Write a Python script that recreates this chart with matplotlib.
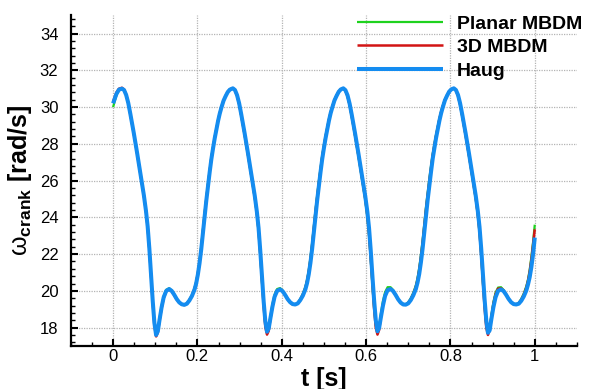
import matplotlib
matplotlib.use('Agg')
import matplotlib.pyplot as plt
from matplotlib.ticker import MultipleLocator

plt.rcParams['font.family'] = ['Liberation Sans', 'DejaVu Sans']
plt.rcParams['mathtext.fontset'] = 'custom'
plt.rcParams['mathtext.rm'] = 'Liberation Sans'
plt.rcParams['mathtext.bf'] = 'Liberation Sans:bold'
plt.rcParams['mathtext.it'] = 'Liberation Sans:italic'

# time [s], shared by all three series
t = [0.000, 0.008, 0.014,
     # cycle 1
     0.021, 0.026, 0.031, 0.036, 0.041, 0.049, 0.057, 0.065, 0.073, 0.078,
     0.082, 0.086, 0.090, 0.094, 0.098, 0.102, 0.106, 0.110, 0.115, 0.120,
     0.126, 0.133, 0.139, 0.145, 0.151, 0.157, 0.163, 0.169, 0.175, 0.181,
     0.187, 0.193, 0.197, 0.201, 0.205, 0.209, 0.213, 0.217, 0.221, 0.225,
     0.229, 0.233, 0.237, 0.241, 0.245, 0.249, 0.253, 0.257, 0.262, 0.267,
     0.272, 0.277,
     # cycle 2
     0.284, 0.289, 0.294, 0.299, 0.304, 0.312, 0.320, 0.328, 0.336, 0.341,
     0.345, 0.349, 0.353, 0.357, 0.361, 0.365, 0.369, 0.373, 0.378, 0.383,
     0.389, 0.396, 0.402, 0.408, 0.414, 0.420, 0.426, 0.432, 0.438, 0.444,
     0.450, 0.456, 0.460, 0.464, 0.468, 0.472, 0.476, 0.480, 0.484, 0.488,
     0.492, 0.496, 0.500, 0.504, 0.508, 0.512, 0.516, 0.520, 0.525, 0.530,
     0.535, 0.540,
     # cycle 3
     0.546, 0.551, 0.556, 0.561, 0.566, 0.574, 0.582, 0.590, 0.598, 0.603,
     0.607, 0.611, 0.615, 0.619, 0.623, 0.627, 0.631, 0.635, 0.640, 0.645,
     0.651, 0.658, 0.664, 0.670, 0.676, 0.682, 0.688, 0.694, 0.700, 0.706,
     0.712, 0.718, 0.722, 0.726, 0.730, 0.734, 0.738, 0.742, 0.746, 0.750,
     0.754, 0.758, 0.762, 0.766, 0.770, 0.774, 0.778, 0.782, 0.787, 0.792,
     0.797, 0.802,
     # cycle 4
     0.808, 0.813, 0.818, 0.823, 0.828, 0.836, 0.844, 0.852, 0.860, 0.865,
     0.869, 0.873, 0.877, 0.881, 0.885, 0.889, 0.893, 0.897, 0.902, 0.907,
     0.913, 0.920, 0.926, 0.932, 0.938, 0.944, 0.950, 0.956, 0.962, 0.968,
     0.974, 0.980, 0.984, 0.988, 0.992, 0.996, 1.000]

# crank angular velocity [rad/s]
planar = [30.0, 30.65, 30.93,
          31.0, 30.92, 30.64, 30.18, 29.57, 28.55, 27.45, 26.3, 25.15, 24.3,
          23.4, 22.15, 20.75, 19.35, 18.2, 17.62, 17.85, 18.5, 19.2, 19.72,
          20.06, 20.14, 20.02, 19.8, 19.56, 19.38, 19.27, 19.25, 19.32, 19.52,
          19.78, 20.14, 20.5, 21.0, 21.65, 22.42, 23.33, 24.25, 25.06, 25.85,
          26.58, 27.28, 27.85, 28.38, 28.85, 29.3, 29.7, 30.02, 30.38, 30.62,
          30.84, 30.96,
          31.02, 30.9, 30.6, 30.12, 29.5, 28.45, 27.35, 26.2, 25.05, 24.15,
          23.2, 21.9, 20.5, 19.2, 18.15, 17.72, 17.95, 18.6, 19.3, 19.8,
          20.1, 20.15, 20.02, 19.8, 19.55, 19.37, 19.27, 19.26, 19.35, 19.56,
          19.84, 20.22, 20.6, 21.12, 21.8, 22.6, 23.5, 24.4, 25.2, 25.98,
          26.7, 27.38, 27.94, 28.45, 28.92, 29.36, 29.74, 30.05, 30.4, 30.64,
          30.85, 30.97,
          31.02, 30.88, 30.57, 30.08, 29.45, 28.4, 27.28, 26.12, 24.95, 24.0,
          23.0, 21.7, 20.3, 19.05, 18.1, 17.78, 18.05, 18.75, 19.45, 19.92,
          20.2, 20.2, 20.05, 19.8, 19.55, 19.37, 19.27, 19.27, 19.38, 19.6,
          19.9, 20.3, 20.7, 21.25, 21.95, 22.75, 23.65, 24.55, 25.35, 26.1,
          26.8, 27.45, 28.0, 28.5, 28.96, 29.4, 29.77, 30.08, 30.42, 30.66,
          30.86, 30.97,
          31.02, 30.9, 30.6, 30.1, 29.48, 28.43, 27.32, 26.15, 25.0, 24.1,
          23.15, 21.9, 20.45, 19.15, 18.1, 17.7, 17.95, 18.65, 19.4, 19.9,
          20.18, 20.2, 20.05, 19.82, 19.58, 19.4, 19.29, 19.27, 19.35, 19.56,
          19.86, 20.25, 20.62, 21.15, 21.85, 22.65, 23.6]

mbdm3d = [30.3, 30.8, 31.0,
          31.05, 30.96, 30.68, 30.22, 29.6, 28.58, 27.48, 26.33, 25.18, 24.33,
          23.47, 22.25, 20.82, 19.35, 18.1, 17.52, 17.72, 18.35, 19.05, 19.6,
          19.97, 20.08, 19.98, 19.77, 19.54, 19.36, 19.26, 19.23, 19.3, 19.49,
          19.74, 20.1, 20.45, 20.94, 21.56, 22.32, 23.22, 24.14, 24.96, 25.75,
          26.5, 27.2, 27.78, 28.33, 28.8, 29.27, 29.67, 30.0, 30.36, 30.61,
          30.83, 30.96,
          31.03, 30.92, 30.63, 30.16, 29.54, 28.5, 27.4, 26.25, 25.1, 24.22,
          23.3, 22.0, 20.6, 19.2, 18.05, 17.62, 17.82, 18.45, 19.15, 19.68,
          20.03, 20.1, 19.99, 19.78, 19.54, 19.36, 19.26, 19.24, 19.32, 19.52,
          19.8, 20.16, 20.54, 21.05, 21.7, 22.48, 23.38, 24.3, 25.1, 25.88,
          26.6, 27.3, 27.87, 28.4, 28.87, 29.32, 29.71, 30.03, 30.38, 30.63,
          30.84, 30.96,
          31.03, 30.9, 30.6, 30.12, 29.5, 28.45, 27.35, 26.18, 25.02, 24.1,
          23.1, 21.8, 20.4, 19.05, 18.0, 17.62, 17.88, 18.55, 19.25, 19.76,
          20.08, 20.12, 20.0, 19.78, 19.54, 19.36, 19.26, 19.25, 19.34, 19.55,
          19.84, 20.22, 20.6, 21.14, 21.82, 22.6, 23.5, 24.42, 25.22, 25.98,
          26.7, 27.38, 27.94, 28.45, 28.92, 29.36, 29.74, 30.05, 30.4, 30.64,
          30.85, 30.97,
          31.03, 30.92, 30.62, 30.14, 29.52, 28.47, 27.37, 26.2, 25.05, 24.15,
          23.2, 21.95, 20.5, 19.1, 18.0, 17.6, 17.85, 18.55, 19.3, 19.82,
          20.12, 20.14, 20.02, 19.8, 19.56, 19.38, 19.27, 19.26, 19.33, 19.52,
          19.8, 20.18, 20.55, 21.05, 21.7, 22.5, 23.35]

haug = [30.2, 30.72, 30.95,
        31.0, 30.93, 30.66, 30.22, 29.62, 28.6, 27.5, 26.35, 25.2, 24.35,
        23.5, 22.3, 20.9, 19.45, 18.25, 17.6, 17.8, 18.4, 19.1, 19.65,
        20.0, 20.1, 20.0, 19.79, 19.55, 19.37, 19.27, 19.24, 19.3, 19.48,
        19.72, 20.06, 20.4, 20.88, 21.5, 22.25, 23.15, 24.07, 24.9, 25.7,
        26.45, 27.16, 27.75, 28.3, 28.78, 29.25, 29.65, 29.98, 30.35, 30.6,
        30.82, 30.95,
        31.02, 30.93, 30.65, 30.2, 29.6, 28.57, 27.47, 26.32, 25.17, 24.3,
        23.42, 22.2, 20.8, 19.45, 18.35, 17.78, 17.95, 18.5, 19.15, 19.68,
        20.0, 20.08, 19.98, 19.78, 19.55, 19.38, 19.28, 19.26, 19.32, 19.5,
        19.74, 20.08, 20.42, 20.9, 21.52, 22.28, 23.18, 24.1, 24.93, 25.72,
        26.47, 27.18, 27.77, 28.32, 28.8, 29.27, 29.67, 29.99, 30.36, 30.61,
        30.83, 30.96,
        31.02, 30.92, 30.64, 30.18, 29.58, 28.55, 27.45, 26.3, 25.15, 24.3,
        23.42, 22.2, 20.8, 19.5, 18.4, 17.8, 18.0, 18.55, 19.2, 19.72,
        20.04, 20.1, 19.99, 19.78, 19.54, 19.36, 19.26, 19.25, 19.32, 19.5,
        19.76, 20.1, 20.45, 20.92, 21.55, 22.3, 23.2, 24.12, 24.95, 25.74,
        26.48, 27.2, 27.78, 28.33, 28.8, 29.27, 29.67, 30.0, 30.37, 30.62,
        30.84, 30.96,
        31.02, 30.93, 30.66, 30.2, 29.6, 28.58, 27.48, 26.33, 25.18, 24.33,
        23.48, 22.3, 20.9, 19.55, 18.4, 17.72, 17.85, 18.45, 19.12, 19.65,
        20.0, 20.08, 19.99, 19.79, 19.56, 19.38, 19.28, 19.26, 19.3, 19.46,
        19.7, 20.02, 20.35, 20.75, 21.3, 22.0, 22.9]

labels = ['Planar MBDM', '3D MBDM', 'Haug']
colors = ['#1ed21e', '#d21414', '#148cf0']
widths = [1.6, 1.8, 2.9]

fig = plt.figure(figsize=(5.96, 3.89), dpi=100)
ax = fig.add_axes([0.119, 0.1105, 0.849, 0.8505])

for y, lab, c, lw in zip([planar, mbdm3d, haug], labels, colors, widths):
    ax.plot(t, y, color=c, lw=lw, label=lab, solid_joinstyle='round',
            solid_capstyle='butt')

ax.set_xlim(-0.1, 1.1)
ax.set_ylim(17, 35)
ax.xaxis.set_minor_locator(MultipleLocator(0.05))
ax.yaxis.set_minor_locator(MultipleLocator(0.4))
ax.set_xticks([0, 0.2, 0.4, 0.6, 0.8, 1.0])
ax.set_xticklabels(['0', '0.2', '0.4', '0.6', '0.8', '1'])
ax.set_yticks(range(18, 35, 2))

for s in ['top', 'right']:
    ax.spines[s].set_visible(False)
for s in ['left', 'bottom']:
    ax.spines[s].set_linewidth(1.6)

ax.tick_params(which='major', direction='in', length=5, width=1.5, labelsize=12)
ax.tick_params(which='minor', direction='in', length=3, width=1.0)
ax.tick_params(axis='y', which='major', pad=9)
ax.tick_params(axis='x', which='major', pad=2)

ax.grid(True, which='major', color='#b4b4b4', linestyle=(0, (1, 1)), linewidth=0.9)

ax.set_xlabel('t [s]', fontsize=18, fontweight='bold', labelpad=2)
ax.set_ylabel(r'$\mathrm{\omega}_{\mathbf{crank}}$ [rad/s]', fontsize=18,
              fontweight='bold', labelpad=4)

ax.legend(loc='upper left', bbox_to_anchor=(357 / 596, 1 - 15 / 389),
          bbox_transform=fig.transFigure, frameon=False,
          prop={'weight': 'bold', 'size': 14}, handlelength=4.4,
          handletextpad=0.75, labelspacing=0.3, borderpad=0, borderaxespad=0)

fig.savefig('out.png', dpi=100)
